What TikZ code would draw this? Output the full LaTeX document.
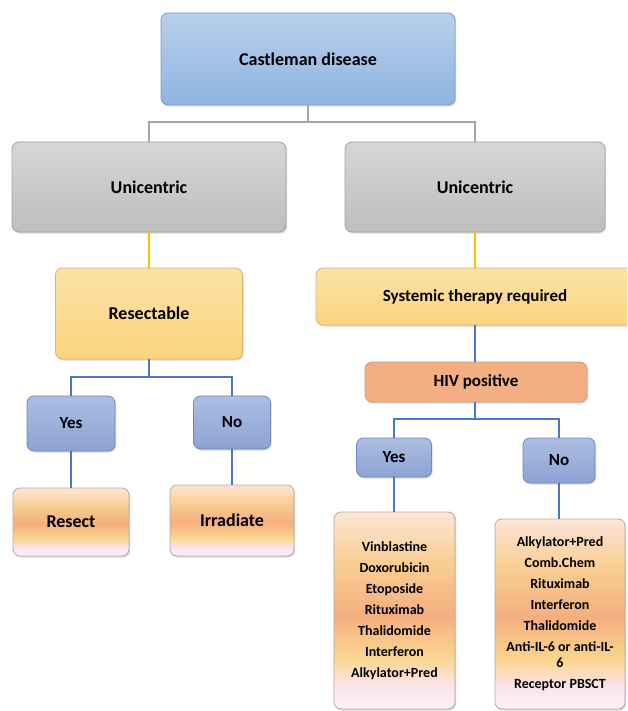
\documentclass[tikz,border=0pt]{standalone}
\usepackage{fontspec}
\setmainfont{Carlito}
\usetikzlibrary{shadows}
\definecolor{blueT}{HTML}{B9D0EC}
\definecolor{blueB}{HTML}{8EB4E0}
\definecolor{blueD}{HTML}{7C9CC8}
\definecolor{grayT}{HTML}{D6D6D6}
\definecolor{grayB}{HTML}{BEBEBE}
\definecolor{grayD}{HTML}{A3A3A3}
\definecolor{yelT}{HTML}{FCE2A8}
\definecolor{yelB}{HTML}{FBD57E}
\definecolor{yelD}{HTML}{D8B56E}
\definecolor{hivF}{HTML}{F3AF83}
\definecolor{hivD}{HTML}{D49A78}
\definecolor{ynT}{HTML}{AEBEE4}
\definecolor{ynB}{HTML}{8CA2D3}
\definecolor{ynD}{HTML}{6F86BE}
\definecolor{pkw}{HTML}{FDF1F6}
\definecolor{pkl}{HTML}{FBE3EC}
\definecolor{ylw}{HTML}{FAD68E}
\definecolor{org}{HTML}{F4AE80}
\definecolor{ylw2}{HTML}{F9CE92}
\definecolor{topc}{HTML}{FCE5D6}
\definecolor{peD}{HTML}{B9A79C}
\definecolor{lnGray}{HTML}{A6A6A6}
\definecolor{lnYel}{HTML}{FFC000}
\definecolor{lnBlue}{HTML}{4A76C6}
\pgfdeclareverticalshading{peach}{100bp}{color(0bp)=(pkw); color(25bp)=(pkw); color(31bp)=(pkl); color(38bp)=(ylw); color(49bp)=(org); color(62bp)=(ylw2); color(75bp)=(topc); color(100bp)=(topc)}
\tikzset{
  box/.style={rounded corners=7pt, draw, line width=0.8pt, inner sep=2pt, align=center,
    drop shadow={opacity=0.3, shadow xshift=1.2pt, shadow yshift=-1.5pt}},
  bluebox/.style={box, draw=blueD, top color=blueT, bottom color=blueB},
  graybox/.style={box, draw=grayD, top color=grayT, bottom color=grayB},
  yelbox/.style={box, draw=yelD, top color=yelT, bottom color=yelB},
  hivbox/.style={box, draw=hivD, fill=hivF},
  ynbox/.style={box, draw=ynD, top color=ynT, bottom color=ynB},
  peachbox/.style={box, draw=peD, shading=peach},
  big/.style={font=\bfseries\fontsize{18}{22}\selectfont},
  mid/.style={font=\bfseries\fontsize{17}{21}\selectfont},
  small/.style={font=\bfseries\fontsize{14}{21}\selectfont},
  grayline/.style={draw=lnGray, line width=1.5pt},
  yelline/.style={draw=lnYel, line width=1.5pt},
  blueline/.style={draw=lnBlue, line width=1.5pt}
}
\begin{document}
\begin{tikzpicture}[x=1pt, y=-1pt]
\clip (0,0) rectangle (627,711);
\fill[white] (0,0) rectangle (627,711);
\node[bluebox, big, minimum width=294pt, minimum height=92pt] (top) at (308,59) {Castleman disease};
\node[graybox, big, minimum width=274pt, minimum height=90pt] (u1) at (149,187) {Unicentric};
\node[graybox, big, minimum width=260pt, minimum height=90pt] (u2) at (475,187) {Unicentric};
\node[yelbox, big, minimum width=187pt, minimum height=91pt] (res) at (149,313.5) {Resectable};
\node[yelbox, mid, minimum width=330pt, minimum height=57pt] (sys) at (481,296.5) {Systemic therapy required\hspace*{12pt}};
\node[hivbox, mid, minimum width=222pt, minimum height=40pt] (hiv) at (476,382) {HIV positive};
\node[ynbox, mid, minimum width=88pt, minimum height=55pt] (yes1) at (71,423.5) {Yes};
\node[ynbox, mid, minimum width=77pt, minimum height=53pt] (no1) at (232,422.5) {No};
\node[peachbox, big, minimum width=116pt, minimum height=68pt] (resect) at (71,522) {Resect};
\node[peachbox, big, minimum width=124pt, minimum height=71pt] (irr) at (232,520.5) {Irradiate};
\node[ynbox, mid, minimum width=75pt, minimum height=39pt] (yes2) at (394,457.5) {Yes};
\node[ynbox, mid, minimum width=72pt, minimum height=45pt] (no2) at (559,460.5) {No};
\node[peachbox, small, minimum width=121pt, minimum height=197pt] (list1) at (394.5,610.5)
  {Vinblastine\\Doxorubicin\\Etoposide\\Rituximab\\Thalidomide\\Interferon\\Alkylator+Pred};
\node[peachbox, small, minimum width=130pt, minimum height=190pt] (list2) at (560,614)
  {Alkylator+Pred\\Comb.Chem\\Rituximab\\Interferon\\Thalidomide\\Anti-IL-6 or anti-IL-\\[-5pt]6\\Receptor PBSCT};
\coordinate (j1) at (308,122);
\coordinate (j2) at (149,377);
\coordinate (j3) at (475,419);
\draw[grayline] (top.south) -- (j1) -| (u1.north);
\draw[grayline] (j1) -| (u2.north);
\draw[yelline] (u1.south) -- (u1.south |- res.north);
\draw[yelline] (u2.south) -- (u2.south |- sys.north);
\draw[blueline] (u2.south |- sys.south) -- (u2.south |- hiv.north);
\draw[blueline] (res.south) -- (j2) -| (yes1.north);
\draw[blueline] (j2) -| (no1.north);
\draw[blueline] (hiv.south -| j3) -- (j3) -| (yes2.north);
\draw[blueline] (j3) -| (no2.north);
\draw[blueline] (yes1.south) -- (yes1.south |- resect.north);
\draw[blueline] (no1.south) -- (no1.south |- irr.north);
\draw[blueline] (yes2.south) -- (yes2.south |- list1.north);
\draw[blueline] (no2.south) -- (no2.south |- list2.north);
\end{tikzpicture}
\end{document}
